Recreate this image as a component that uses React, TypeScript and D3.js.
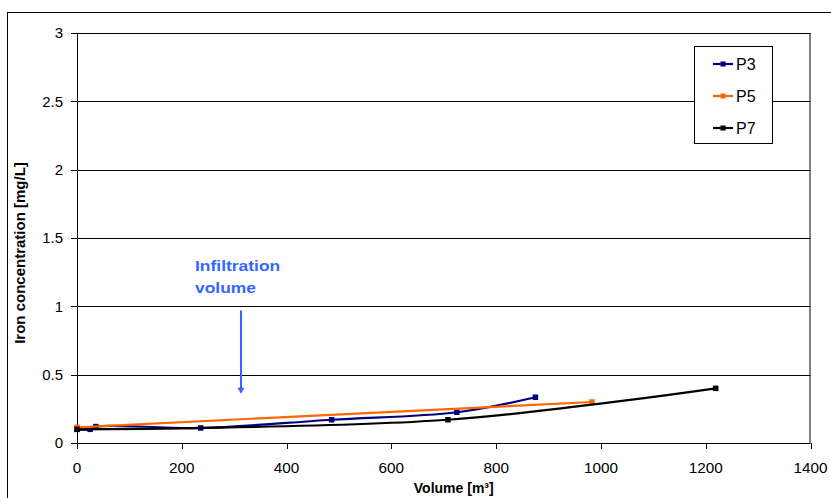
import React, { useRef, useEffect } from "react";
import * as d3 from "d3";

const xTicks = [0, 200, 400, 600, 800, 1000, 1200, 1400];
const yTicks = [0, 0.5, 1, 1.5, 2, 2.5, 3];
const yTickLabels = ["0", "0.5", "1", "1.5", "2", "2.5", "3"];

const p3Volume = [0, 25, 36, 236, 486, 725, 875];
const p3Iron = [0.1, 0.1, 0.12, 0.11, 0.17, 0.225, 0.335];
const p5Volume = [0, 983];
const p5Iron = [0.115, 0.3];
const p7Volume = [0, 708, 1219];
const p7Iron = [0.1, 0.17, 0.4];

const seriesNames = ["P3", "P5", "P7"];
const seriesColors = ["#000080", "#FF6600", "#000000"];

const annotationLines = ["Infiltration", "volume"];
const annotationVolume = 313;
const annotationTop = 0.97;
const annotationBottom = 0.36;

const FONT = "'Liberation Sans', Arial, sans-serif";

export default function App() {
  const ref = useRef<SVGSVGElement>(null);

  useEffect(() => {
    const svg = d3.select(ref.current);
    svg.selectAll("*").remove();
    const W = 831, H = 498;
    const left = 77, right = 810.5, top = 33, bottom = 443;
    const x = d3.scaleLinear().domain([0, 1400]).range([left, right]);
    const y = d3.scaleLinear().domain([0, 3]).range([bottom, top]);

    // outer chart border
    svg.append("rect").attr("x", 7.5).attr("y", 12.5).attr("width", W + 20).attr("height", H + 20)
      .attr("fill", "white").attr("stroke", "#000").attr("stroke-width", 1);

    // gridlines
    svg.append("g").selectAll("line").data(yTicks.slice(1)).join("line")
      .attr("x1", left).attr("x2", right)
      .attr("y1", d => Math.round(y(d)) + 0.5).attr("y2", d => Math.round(y(d)) + 0.5)
      .attr("stroke", "#000").attr("stroke-width", 1);

    // plot border
    svg.append("rect").attr("x", left + 0.5).attr("y", top + 0.5)
      .attr("width", right - left - 1).attr("height", bottom - top)
      .attr("fill", "none").attr("stroke", "#000").attr("stroke-width", 1);

    // y axis ticks & labels
    const yg = svg.append("g");
    yg.selectAll("line").data(yTicks).join("line")
      .attr("x1", left - 6).attr("x2", left)
      .attr("y1", d => Math.round(y(d)) + 0.5).attr("y2", d => Math.round(y(d)) + 0.5)
      .attr("stroke", "#000");
    yg.selectAll("text").data(yTicks).join("text")
      .attr("x", 63).attr("y", d => y(d)).attr("dy", "0.36em")
      .attr("text-anchor", "end").attr("font-family", FONT).attr("font-size", 15)
      .attr("fill", "#000").text((d, i) => yTickLabels[i]);

    // x axis ticks & labels
    const xg = svg.append("g");
    xg.selectAll("line").data(xTicks).join("line")
      .attr("x1", d => Math.round(x(d)) + 0.5).attr("x2", d => Math.round(x(d)) + 0.5)
      .attr("y1", bottom).attr("y2", bottom + 6)
      .attr("stroke", "#000");
    xg.selectAll("text").data(xTicks).join("text")
      .attr("x", d => x(d)).attr("y", 473)
      .attr("text-anchor", "middle").attr("font-family", FONT).attr("font-size", 15.3)
      .attr("fill", "#000").text(d => String(d));

    // axis titles
    svg.append("text").attr("x", (left + right) / 2 + 10).attr("y", 493)
      .attr("text-anchor", "middle").attr("font-family", FONT).attr("font-size", 14)
      .attr("font-weight", "bold").text("Volume [m³]");
    svg.append("text").attr("transform", `translate(25, 253) rotate(-90)`)
      .attr("text-anchor", "middle").attr("font-family", FONT).attr("font-size", 15)
      .attr("font-weight", "bold").text("Iron concentration [mg/L]");

    // series
    const seriesData = [
      p3Volume.map((v, i) => [v, p3Iron[i]]),
      p5Volume.map((v, i) => [v, p5Iron[i]]),
      p7Volume.map((v, i) => [v, p7Iron[i]]),
    ];
    const line = d3.line<number[]>().x(d => x(d[0])).y(d => y(d[1]))
      .curve(d3.curveCatmullRom.alpha(0.5));
    seriesData.forEach((data, si) => {
      const g = svg.append("g");
      g.append("path").attr("d", line(data)).attr("fill", "none")
        .attr("stroke", seriesColors[si]).attr("stroke-width", 2.2);
      g.selectAll("rect").data(data).join("rect")
        .attr("x", d => x(d[0]) - 2.75).attr("y", d => y(d[1]) - 2.75)
        .attr("width", 5.5).attr("height", 5.5).attr("fill", seriesColors[si]);
    });

    // annotation
    const ax = x(annotationVolume);
    const at = svg.append("g").attr("transform", "translate(195, 271) scale(1.14, 1)");
    at.selectAll("text").data(annotationLines).join("text")
      .attr("x", 0).attr("y", (d, i) => i * 22)
      .attr("font-family", FONT).attr("font-size", 15.3).attr("font-weight", "bold")
      .attr("fill", "#3366FF").text(d => d);
    const aTop = y(annotationTop), aBot = y(annotationBottom);
    svg.append("line").attr("x1", ax).attr("x2", ax).attr("y1", aTop).attr("y2", aBot - 5)
      .attr("stroke", "#3366FF").attr("stroke-width", 2);
    svg.append("path")
      .attr("d", `M${ax - 3.5},${aBot - 6} L${ax + 3.5},${aBot - 6} L${ax},${aBot} Z`)
      .attr("fill", "#3366FF");

    // legend
    const lg = svg.append("g");
    lg.append("rect").attr("x", 694.5).attr("y", 46.5).attr("width", 78).attr("height", 97)
      .attr("fill", "white").attr("stroke", "#000");
    seriesNames.forEach((name, i) => {
      const ly = 64 + i * 32;
      lg.append("line").attr("x1", 713).attr("x2", 733).attr("y1", ly).attr("y2", ly)
        .attr("stroke", seriesColors[i]).attr("stroke-width", 2.2);
      lg.append("rect").attr("x", 720.5).attr("y", ly - 2.5).attr("width", 5).attr("height", 5)
        .attr("fill", seriesColors[i]);
      lg.append("text").attr("x", 736).attr("y", ly).attr("dy", "0.36em")
        .attr("font-family", FONT).attr("font-size", 16).text(name);
    });
  }, []);

  return (
    <svg ref={ref} width={831} height={498}
      style={{ position: "absolute", left: 0, top: 0, display: "block", background: "white" }} />
  );
}
